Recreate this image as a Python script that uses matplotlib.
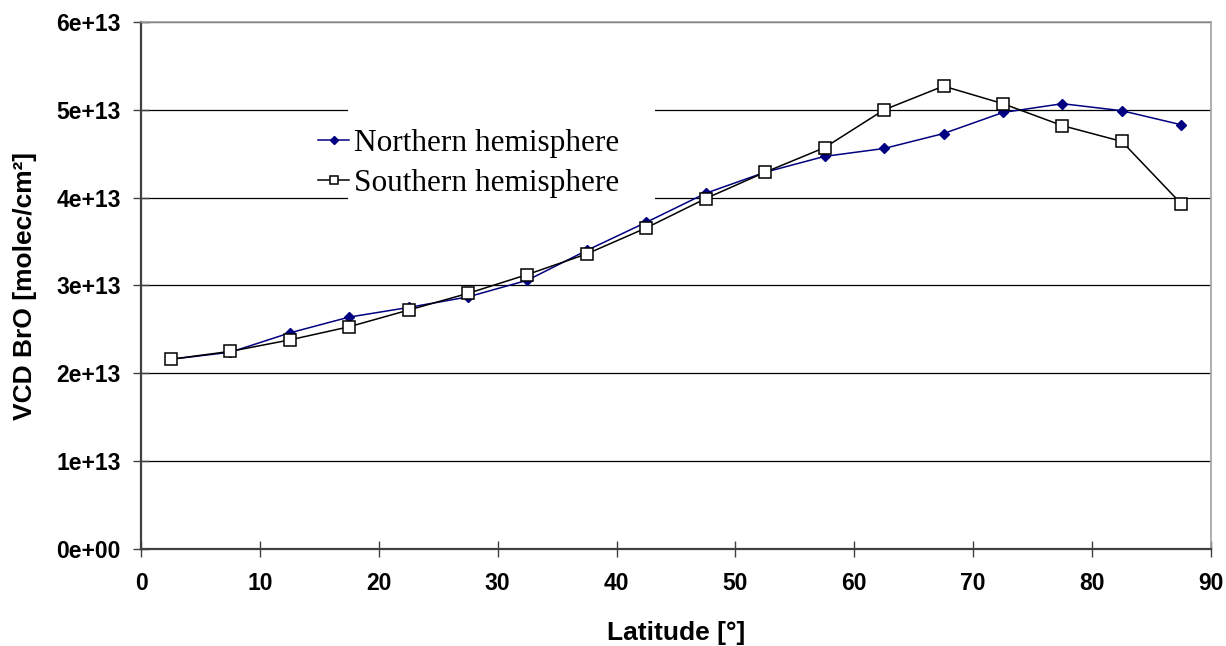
import matplotlib
matplotlib.use("Agg")
import matplotlib.pyplot as plt
from matplotlib.patches import Rectangle
from matplotlib.ticker import FuncFormatter, MultipleLocator
import numpy as np

# latitude band centres [deg]
latitude = [2.5, 7.5, 12.5, 17.5, 22.5, 27.5, 32.5, 37.5, 42.5,
            47.5, 52.5, 57.5, 62.5, 67.5, 72.5, 77.5, 82.5, 87.5]

# mean BrO vertical column densities [molec/cm2]
vcd_north = np.array([2.16, 2.24, 2.46, 2.64, 2.75, 2.87, 3.06, 3.40, 3.72,
                      4.05, 4.29, 4.47, 4.56, 4.73, 4.97, 5.07, 4.99, 4.83]) * 1e13
vcd_south = np.array([2.16, 2.25, 2.38, 2.53, 2.72, 2.91, 3.125, 3.36, 3.656,
                      3.99, 4.29, 4.57, 5.00, 5.27, 5.07, 4.82, 4.64, 3.93]) * 1e13

label_north = "Northern hemisphere"
label_south = "Southern hemisphere"

plt.rcParams["font.family"] = ["Liberation Sans", "DejaVu Sans"]

fig = plt.figure(figsize=(12.26, 6.46), dpi=100)
ax = fig.add_axes([141 / 1226, 1 - 549 / 646, 1070 / 1226, 527 / 646])

ax.plot(latitude, vcd_north, color="#000080", lw=1.1, marker="D", ms=5.5,
        mfc="#000080", mec="#000080", label=label_north, zorder=3)
ax.plot(latitude, vcd_south, color="black", lw=1.1, marker="s", ms=8,
        mfc="white", mec="black", mew=1.1, label=label_south, zorder=4)

ax.set_xlim(0, 90)
ax.set_ylim(0, 6e13)
ax.xaxis.set_major_locator(MultipleLocator(10))
ax.yaxis.set_major_locator(MultipleLocator(1e13))
ax.yaxis.set_major_formatter(FuncFormatter(lambda v, p: f"{v:.0e}"))

ax.set_axisbelow(True)
ax.grid(axis="y", color="black", lw=0.9)

for side in ("top", "right"):
    ax.spines[side].set_color("#a0a0a0")
    ax.spines[side].set_linewidth(1.2)
for side in ("left", "bottom"):
    ax.spines[side].set_color("#404040")
    ax.spines[side].set_linewidth(1.6)

ax.tick_params(axis="both", direction="inout", length=11, width=1.0,
               color="#404040", labelsize=16.5)
ax.tick_params(axis="y", pad=9)
ax.tick_params(axis="x", pad=11)
for lbl in ax.get_xticklabels() + ax.get_yticklabels():
    lbl.set_fontweight("bold")

ax.set_xlabel("Latitude [°]", fontsize=19, fontweight="bold", labelpad=19)
ax.set_ylabel("VCD BrO [molec/cm²]", fontsize=19, fontweight="bold", labelpad=14)

# white patch behind the legend text
ax.add_patch(Rectangle((0.1935, 0.662), 0.2869, 0.181, transform=ax.transAxes,
                       facecolor="white", edgecolor="none", zorder=1))

leg = ax.legend(loc="upper left", bbox_to_anchor=(0.1654, 0.797), frameon=False,
                prop={"family": "Liberation Serif", "size": 22.5},
                handlelength=1.0, handletextpad=0.15, borderpad=0,
                borderaxespad=0, labelspacing=0.35, markerscale=0.8)

fig.savefig("out.png", dpi=100)
